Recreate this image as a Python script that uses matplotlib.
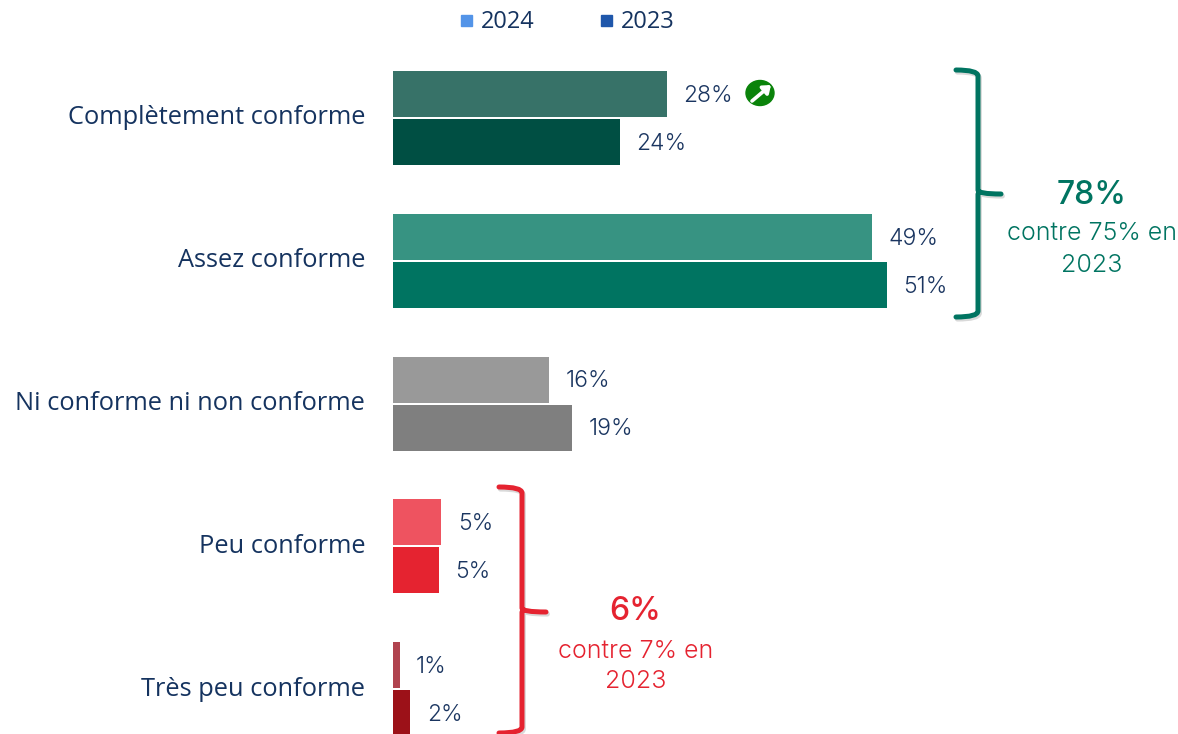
import numpy as np
import matplotlib
matplotlib.use('Agg')
import matplotlib.pyplot as plt
import matplotlib.patheffects as pe
from matplotlib.path import Path
from matplotlib.patches import PathPatch, Ellipse, Rectangle

categories = ['Complètement conforme', 'Assez conforme', 'Ni conforme ni non conforme',
              'Peu conforme', 'Très peu conforme']
values_2024 = [28.3, 49.4, 16.1, 5.0, 0.7]
values_2023 = [23.4, 51.0, 18.5, 4.7, 1.8]
labels_2024 = ['28%', '49%', '16%', '5%', '1%']
labels_2023 = ['24%', '51%', '19%', '5%', '2%']
colors_2024 = ['#377268', '#379382', '#999999', '#ee5360', '#b0434e']
colors_2023 = ['#004f43', '#007461', '#7f7f7f', '#e52330', '#9c1118']

navy = '#1a3560'
cat_navy = '#15335f'
green = '#007461'
red = '#e52330'
cat_font = 'Open Sans'
val_font = 'Inter'

W, H = 1178, 734
fig = plt.figure(figsize=(W / 100, H / 100), dpi=100)

# main axes fill the whole figure, the limits put the bars where they belong
px_per_pct = 9.69
pitch = 142.75
ax = fig.add_axes([0, 0, 1, 1])
ax.set_xlim(-393 / px_per_pct, (W - 393) / px_per_pct)
ax.set_ylim((H - 118) / pitch, -118 / pitch)
ax.axis('off')

y = np.arange(len(categories))
offset = 24 / pitch
height = 46 / pitch
ax.barh(y - offset, values_2024, height=height, color=colors_2024)
ax.barh(y + offset, values_2023, height=height, color=colors_2023)

for i in y:
    ax.annotate(labels_2024[i], (values_2024[i], i - offset), xytext=(11.8, -1.4),
                textcoords='offset points', va='center', fontsize=16.5, color=navy,
                family=val_font, weight=300)
    ax.annotate(labels_2023[i], (values_2023[i], i + offset), xytext=(11.8, -1.4),
                textcoords='offset points', va='center', fontsize=16.5, color=navy,
                family=val_font, weight=300)
    ax.annotate(categories[i], (0, i), xytext=(-20, 0), textcoords='offset points',
                va='center', ha='right', fontsize=18.3, color=cat_navy, family=cat_font)

# overlay in pixels for legend, brackets and side notes
ov = fig.add_axes([0, 0, 1, 1], facecolor='none')
ov.set_xlim(0, W)
ov.set_ylim(H, 0)
ov.axis('off')

ov.add_patch(Rectangle((461, 15), 11, 11, color='#5394e8'))
ov.add_patch(Rectangle((601, 15), 11, 11, color='#1f57ab'))
ov.text(481, 22, '2024', va='center', fontsize=17, color=cat_navy, family=cat_font)
ov.text(621, 22, '2023', va='center', fontsize=17, color=cat_navy, family=cat_font)


def bracket(x0, xv, xn, top, mid, bot, color):
    verts = [(x0, top), (xv, top), (xv, top + 6), (xv, mid - 4), (xv, mid), (xn, mid),
             (xv, mid), (xv, mid + 4), (xv, bot - 6), (xv, bot), (x0, bot)]
    codes = [Path.MOVETO, Path.CURVE3, Path.CURVE3, Path.LINETO, Path.CURVE3, Path.CURVE3,
             Path.MOVETO, Path.LINETO, Path.LINETO, Path.CURVE3, Path.CURVE3]
    ov.add_patch(PathPatch(Path(verts, codes), fill=False, edgecolor=color, lw=3.6,
                           capstyle='round', joinstyle='round',
                           path_effects=[pe.SimpleLineShadow(offset=(1, -1.5), alpha=0.15,
                                                             shadow_color='k'),
                                         pe.Normal()]))


bracket(956, 978, 1001, 70, 194, 317, green)
bracket(499, 522, 546, 487, 612, 733, red)

ov.text(1092, 195, '78%', ha='center', va='center', fontsize=23, color=green,
        family=val_font, weight=500)
ov.text(1092, 234, 'contre 75% en', ha='center', va='center', fontsize=18, color=green,
        family=val_font, weight=300)
ov.text(1092, 265, '2023', ha='center', va='center', fontsize=18, color=green,
        family=val_font, weight=300)
ov.text(635, 612, '6%', ha='center', va='center', fontsize=23, color=red,
        family=val_font, weight=500)
ov.text(636, 651, 'contre 7% en', ha='center', va='center', fontsize=18, color=red,
        family=val_font, weight=300)
ov.text(636, 682, '2023', ha='center', va='center', fontsize=18, color=red,
        family=val_font, weight=300)

# little green badge with the up arrow
ov.add_patch(Ellipse((760, 93), 28, 25, color='#0a830a'))
ov.annotate('', xy=(771, 85), xytext=(752, 101),
            arrowprops=dict(arrowstyle='-|>,head_width=0.32,head_length=0.42', color='white',
                            lw=2.6, shrinkA=0, shrinkB=0))

fig.savefig('out.png', dpi=100)
